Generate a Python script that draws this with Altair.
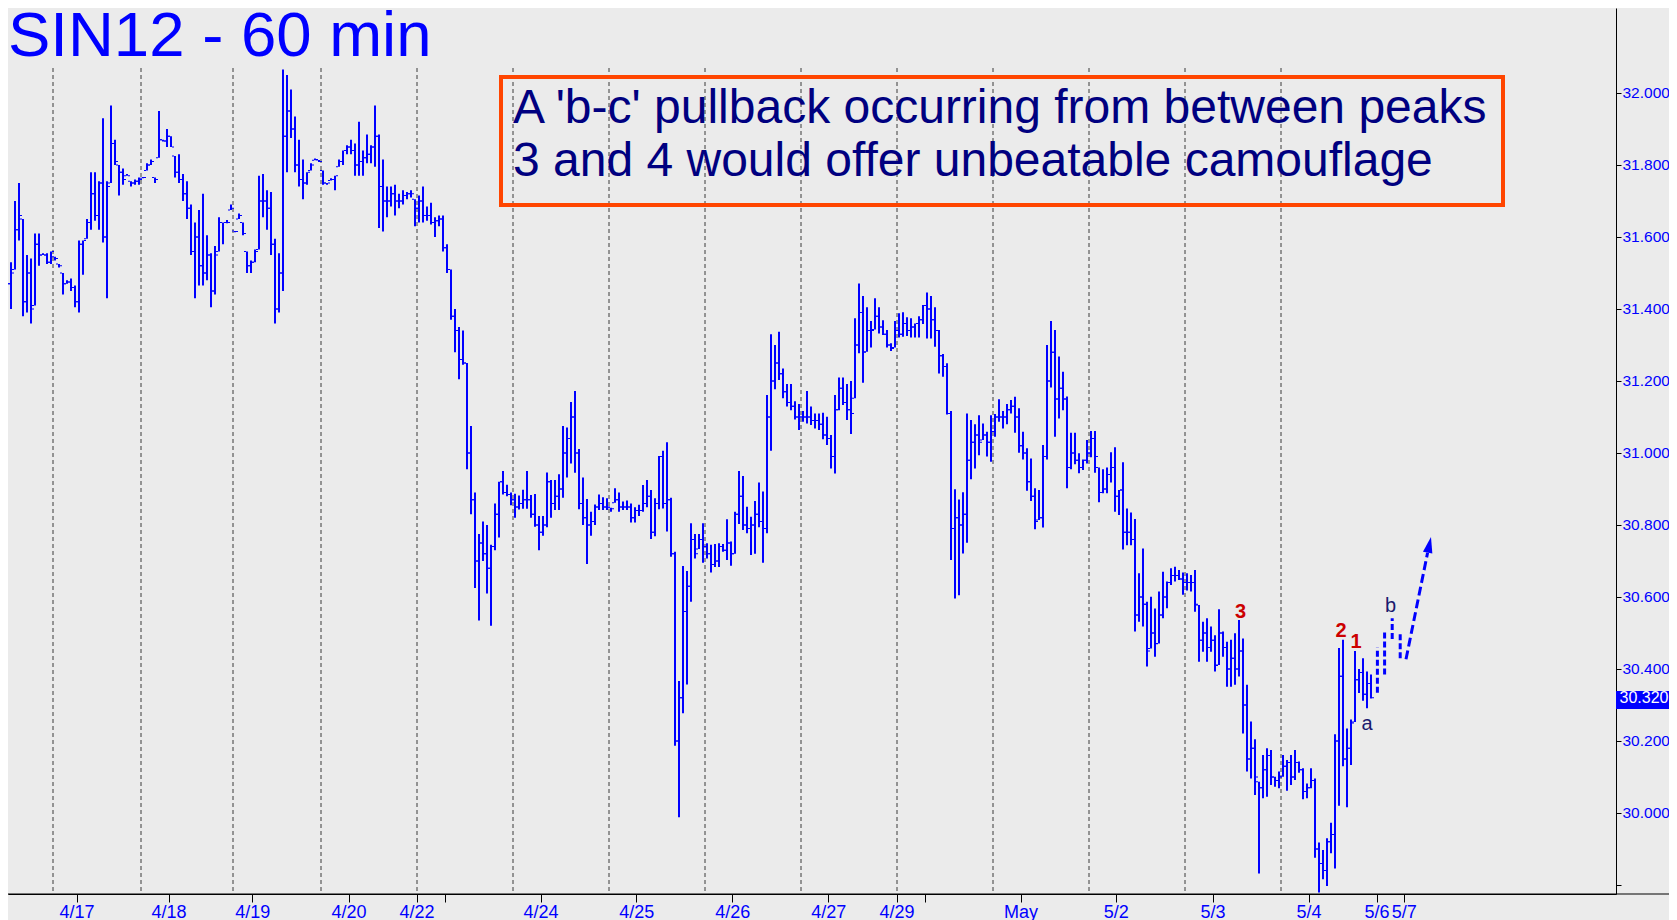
import altair as alt
import pandas as pd

# ---------------- data ----------------
# hourly bars, index i = bar number (first visible bar = 1)
highs = [
    31.57, 31.53, 31.70, 31.75, 31.65, 31.55, 31.54, 31.61, 31.61, 31.555,
    31.555, 31.56, 31.545, 31.525, 31.50, 31.48, 31.485, 31.465, 31.59, 31.59,
    31.65, 31.78, 31.78, 31.755, 31.93, 31.755, 31.965, 31.87, 31.80, 31.79,
    31.775, 31.755, 31.76, 31.765, 31.767, 31.805, 31.815, 31.765, 31.95, 31.87,
    31.90, 31.88, 31.825, 31.83, 31.775, 31.755, 31.69, 31.64, 31.675, 31.72,
    31.605, 31.555, 31.575, 31.655, 31.64, 31.647, 31.69, 31.617, 31.665, 31.64,
    31.56, 31.535, 31.565, 31.77, 31.775, 31.73, 31.725, 31.595, 31.555, 32.065,
    32.05, 32.01, 31.935, 31.87, 31.815, 31.78, 31.805, 31.818, 31.814, 31.785,
    31.75, 31.763, 31.77, 31.815, 31.84, 31.855, 31.87, 31.86, 31.92, 31.84,
    31.885, 31.855, 31.965, 31.885, 31.815, 31.74, 31.74, 31.745, 31.72, 31.73,
    31.725, 31.73, 31.705, 31.715, 31.74, 31.685, 31.695, 31.655, 31.66, 31.66,
    31.58, 31.51, 31.40, 31.35, 31.34, 31.25, 31.075, 30.89, 30.775, 30.81,
    30.80, 30.745, 30.86, 30.92, 30.95, 30.912, 30.89, 30.887, 30.882, 30.898,
    30.95, 30.883, 30.886, 30.825, 30.825, 30.946, 30.925, 30.925, 30.941, 31.075,
    31.071, 31.142, 31.172, 31.011, 30.932, 30.872, 30.837, 30.857, 30.885, 30.877,
    30.874, 30.848, 30.902, 30.89, 30.865, 30.868, 30.86, 30.849, 30.856, 30.911,
    30.925, 30.897, 30.874, 30.992, 31.006, 31.03, 30.876, 30.726, 30.367, 30.686,
    30.672, 30.805, 30.775, 30.775, 30.805, 30.749, 30.745, 30.747, 30.749, 30.747,
    30.816, 30.754, 30.837, 30.95, 30.936, 30.851, 30.823, 30.867, 30.918, 30.893,
    31.161, 31.33, 31.30, 31.337, 31.235, 31.192, 31.192, 31.144, 31.136, 31.117,
    31.172, 31.129, 31.11, 31.11, 31.112, 31.101, 31.05, 31.161, 31.21, 31.21,
    31.192, 31.20, 31.374, 31.471, 31.436, 31.405, 31.367, 31.43, 31.405, 31.369,
    31.342, 31.305, 31.367, 31.388, 31.391, 31.377, 31.374, 31.36, 31.38, 31.411,
    31.446, 31.436, 31.405, 31.342, 31.275, 31.249, 31.117, 30.899, 30.871, 30.891,
    31.11, 31.092, 31.08, 31.105, 31.082, 31.059, 31.105, 31.108, 31.149, 31.117,
    31.136, 31.147, 31.156, 31.124, 31.059, 31.013, 30.985, 30.902, 30.897, 31.022,
    31.30, 31.367, 31.342, 31.268, 31.226, 31.157, 31.056, 31.056, 30.999, 30.982,
    31.036, 31.061, 31.061, 30.96, 30.955, 30.96, 31.002, 31.016, 30.897, 30.974,
    30.846, 30.835, 30.817, 30.666, 30.735, 30.587, 30.601, 30.568, 30.615, 30.67,
    30.643, 30.68, 30.684, 30.675, 30.668, 30.666, 30.661, 30.675, 30.578, 30.531,
    30.541, 30.518, 30.494, 30.566, 30.504, 30.476, 30.481, 30.499, 30.536, 30.485,
    30.356, 30.254, 30.205, 30.087, 30.161, 30.18, 30.175, 30.101, 30.115, 30.161,
    30.147, 30.161, 30.175, 30.143, 30.124, 30.082, 30.124, 30.096, 29.918, 29.897,
    29.93, 29.973, 30.219, 30.458, 30.481, 30.235, 30.26, 30.45, 30.40, 30.43,
    30.393, 30.385,
]
lows = [
    31.45, 31.40, 31.51, 31.59, 31.38, 31.39, 31.36, 31.41, 31.52, 31.55,
    31.525, 31.525, 31.535, 31.515, 31.44, 31.47, 31.45, 31.405, 31.39, 31.495,
    31.595, 31.62, 31.645, 31.62, 31.585, 31.43, 31.75, 31.80, 31.715, 31.745,
    31.77, 31.74, 31.745, 31.745, 31.763, 31.785, 31.80, 31.75, 31.82, 31.865,
    31.85, 31.85, 31.765, 31.75, 31.70, 31.65, 31.55, 31.43, 31.465, 31.465,
    31.48, 31.405, 31.44, 31.56, 31.58, 31.638, 31.675, 31.613, 31.65, 31.605,
    31.50, 31.50, 31.53, 31.565, 31.655, 31.62, 31.55, 31.36, 31.39, 31.45,
    31.78, 31.875, 31.78, 31.74, 31.705, 31.745, 31.785, 31.813, 31.808, 31.745,
    31.745, 31.757, 31.73, 31.795, 31.80, 31.83, 31.83, 31.77, 31.77, 31.77,
    31.805, 31.805, 31.795, 31.625, 31.615, 31.655, 31.685, 31.66, 31.68, 31.69,
    31.705, 31.71, 31.63, 31.64, 31.64, 31.645, 31.635, 31.60, 31.63, 31.56,
    31.50, 31.37, 31.28, 31.205, 31.245, 30.955, 30.83, 30.625, 30.535, 30.70,
    30.61, 30.52, 30.73, 30.765, 30.885, 30.88, 30.855, 30.82, 30.843, 30.845,
    30.845, 30.82, 30.795, 30.73, 30.77, 30.794, 30.82, 30.842, 30.842, 30.876,
    30.932, 30.971, 30.945, 30.844, 30.80, 30.692, 30.77, 30.80, 30.842, 30.842,
    30.842, 30.837, 30.862, 30.837, 30.842, 30.842, 30.807, 30.807, 30.825, 30.837,
    30.849, 30.761, 30.769, 30.844, 30.846, 30.782, 30.712, 30.187, 29.988, 30.277,
    30.357, 30.587, 30.707, 30.733, 30.695, 30.707, 30.668, 30.683, 30.683, 30.726,
    30.703, 30.687, 30.72, 30.803, 30.786, 30.777, 30.717, 30.72, 30.794, 30.695,
    30.777, 31.006, 31.177, 31.203, 31.152, 31.129, 31.119, 31.093, 31.064, 31.087,
    31.082, 31.078, 31.068, 31.064, 31.038, 31.022, 30.957, 30.943, 31.119, 31.133,
    31.092, 31.053, 31.152, 31.277, 31.195, 31.281, 31.293, 31.343, 31.332, 31.328,
    31.293, 31.283, 31.293, 31.321, 31.323, 31.325, 31.321, 31.321, 31.321, 31.358,
    31.318, 31.318, 31.295, 31.221, 31.212, 31.107, 30.703, 30.596, 30.605, 30.721,
    30.751, 30.927, 30.957, 30.994, 31.036, 30.99, 30.976, 31.045, 31.087, 31.068,
    31.08, 31.11, 31.056, 31.001, 30.982, 30.895, 30.867, 30.788, 30.814, 30.793,
    30.982, 31.182, 31.045, 31.096, 31.119, 30.902, 30.955, 30.969, 30.944, 30.953,
    30.971, 30.988, 30.945, 30.863, 30.888, 30.888, 30.918, 30.837, 30.828, 30.732,
    30.744, 30.744, 30.504, 30.531, 30.518, 30.407, 30.457, 30.434, 30.471, 30.541,
    30.569, 30.633, 30.643, 30.647, 30.606, 30.618, 30.615, 30.559, 30.42, 30.448,
    30.42, 30.448, 30.393, 30.411, 30.434, 30.351, 30.351, 30.356, 30.379, 30.221,
    30.115, 30.096, 30.05, 29.832, 30.041, 30.045, 30.078, 30.073, 30.069, 30.101,
    30.062, 30.078, 30.092, 30.112, 30.038, 30.041, 30.069, 29.876, 29.779, 29.816,
    29.797, 29.888, 29.846, 30.02, 30.13, 30.016, 30.133, 30.253, 30.333, 30.312,
    30.291, 30.318,
]
closes = [
    31.47, 31.50, 31.62, 31.66, 31.42, 31.50, 31.40, 31.58, 31.55, 31.55,
    31.53, 31.56, 31.54, 31.52, 31.47, 31.475, 31.46, 31.42, 31.58, 31.59,
    31.64, 31.72, 31.66, 31.75, 31.60, 31.74, 31.86, 31.81, 31.78, 31.76,
    31.77, 31.75, 31.755, 31.76, 31.765, 31.80, 31.81, 31.76, 31.87, 31.867,
    31.88, 31.85, 31.78, 31.76, 31.72, 31.68, 31.56, 31.60, 31.52, 31.50,
    31.55, 31.45, 31.55, 31.64, 31.64, 31.64, 31.68, 31.615, 31.66, 31.61,
    31.52, 31.53, 31.56, 31.70, 31.70, 31.68, 31.58, 31.40, 31.50, 31.88,
    31.95, 31.90, 31.80, 31.76, 31.75, 31.78, 31.80, 31.815, 31.81, 31.75,
    31.75, 31.76, 31.80, 31.81, 31.84, 31.85, 31.84, 31.80, 31.81, 31.82,
    31.83, 31.85, 31.88, 31.74, 31.70, 31.70, 31.72, 31.70, 31.70, 31.715,
    31.72, 31.72, 31.68, 31.70, 31.66, 31.66, 31.64, 31.645, 31.65, 31.57,
    31.51, 31.38, 31.34, 31.26, 31.25, 31.00, 30.87, 30.70, 30.75, 30.72,
    30.68, 30.74, 30.83, 30.92, 30.89, 30.885, 30.87, 30.85, 30.86, 30.87,
    30.87, 30.83, 30.80, 30.78, 30.80, 30.92, 30.86, 30.88, 30.90, 31.00,
    31.04, 31.10, 31.00, 30.86, 30.82, 30.80, 30.81, 30.85, 30.86, 30.85,
    30.85, 30.845, 30.87, 30.85, 30.85, 30.85, 30.82, 30.84, 30.84, 30.86,
    30.88, 30.78, 30.86, 30.99, 30.86, 30.87, 30.72, 30.20, 30.32, 30.56,
    30.63, 30.76, 30.72, 30.76, 30.74, 30.72, 30.69, 30.70, 30.74, 30.73,
    30.75, 30.72, 30.83, 30.88, 30.80, 30.79, 30.80, 30.83, 30.81, 30.79,
    31.10, 31.20, 31.25, 31.22, 31.17, 31.14, 31.13, 31.10, 31.10, 31.10,
    31.10, 31.09, 31.09, 31.08, 31.05, 31.04, 30.99, 31.12, 31.18, 31.14,
    31.12, 31.11, 31.30, 31.39, 31.28, 31.34, 31.34, 31.38, 31.35, 31.33,
    31.30, 31.29, 31.34, 31.33, 31.36, 31.34, 31.35, 31.36, 31.37, 31.41,
    31.40, 31.37, 31.34, 31.27, 31.24, 31.11, 30.79, 30.82, 30.80, 30.83,
    30.98, 31.03, 31.05, 31.03, 31.05, 31.03, 31.06, 31.10, 31.10, 31.10,
    31.12, 31.13, 31.10, 31.02, 31.00, 30.92, 30.88, 30.81, 30.82, 30.99,
    31.20, 31.28, 31.15, 31.18, 31.15, 30.96, 31.00, 30.98, 30.96, 30.98,
    31.00, 31.04, 30.99, 30.89, 30.90, 30.94, 30.96, 30.88, 30.91, 30.78,
    30.78, 30.76, 30.55, 30.60, 30.58, 30.45, 30.50, 30.47, 30.55, 30.60,
    30.64, 30.66, 30.66, 30.65, 30.64, 30.64, 30.64, 30.58, 30.48, 30.50,
    30.46, 30.48, 30.41, 30.50, 30.46, 30.40, 30.43, 30.40, 30.45, 30.30,
    30.15, 30.18, 30.10, 30.07, 30.12, 30.16, 30.10, 30.09, 30.10, 30.13,
    30.14, 30.10, 30.14, 30.12, 30.06, 30.07, 30.09, 29.90, 29.86, 29.84,
    29.92, 29.94, 30.20, 30.38, 30.15, 30.18, 30.25, 30.37, 30.39, 30.33,
    30.36, 30.32,
]
FIRST_BAR = 1

# projected (dashed) bars
proj_i = [343.6, 345.4, 347.3, 349.3]
proj_low = [30.334, 30.385, 30.483, 30.43]
proj_high = [30.46, 30.51, 30.541, 30.505]

# projected arrow (start -> end of shaft, head position)
arrow_i = [350.75, 356.15]
arrow_p = [30.427, 30.723]
head_i = [356.58]
head_p = [30.745]

# day separators (bar-index units)
day_sep = [12.5, 34.5, 57.5, 79.5, 103.5, 127.5, 151.5, 175.5, 199.5,
           223.5, 247.5, 271.5, 295.5, 319.5]

# date axis ticks and labels
date_pos = [18.4, 41.4, 62.3, 86.4, 103.4, 110.4, 134.4, 158.3, 182.3,
            206.3, 223.4, 230.5, 254.4, 278.2, 302.4, 326.4, 343.4, 350.2]
date_lab = ["4/17", "4/18", "4/19", "4/20", "4/22", "", "4/24", "4/25", "4/26",
            "4/27", "4/29", "", "May", "5/2", "5/3", "5/4", "5/6", "5/7"]

price_ticks = [29.8, 30.0, 30.2, 30.4, 30.6, 30.8, 31.0, 31.2, 31.4, 31.6, 31.8, 32.0]

# wave labels
red_text = ["3", "2", "1"]
red_i = [309.4, 334.5, 338.25]
red_p = [30.559, 30.505, 30.474]
navy_text = ["a", "b"]
navy_i = [341.0, 346.9]
navy_p = [30.247, 30.576]

last_price = 30.320
tag_low, tag_high = 30.289, 30.339

title_text = "SIN12 - 60 min"
note_lines = ["A 'b-c' pullback occurring from between peaks",
              "3 and 4 would offer unbeatable camouflage"]

# ---------------- tables ----------------
n = len(highs)
assert len(lows) == n and len(closes) == n
bars = pd.DataFrame({"i": list(range(FIRST_BAR, FIRST_BAR + n)),
                     "p": lows, "p2": highs, "c": closes})
bars["c"] = bars["c"].clip(lower=bars["p"], upper=bars["p2"])
bars["o"] = bars["c"].shift(1).fillna(bars["c"]).clip(lower=bars["p"], upper=bars["p2"])

proj = pd.DataFrame({"i": proj_i, "p": proj_low, "p2": proj_high})
arrow = pd.DataFrame({"i": [arrow_i[0]], "i2": [arrow_i[1]],
                      "p": [arrow_p[0]], "p2": [arrow_p[1]]})
head = pd.DataFrame({"i": head_i, "p": head_p})
seps = pd.DataFrame({"i": day_sep})
reds = pd.DataFrame({"i": red_i, "p": red_p, "t": red_text})
navys = pd.DataFrame({"i": navy_i, "p": navy_p, "t": navy_text})
tag = pd.DataFrame({"p": [tag_low], "p2": [tag_high], "v": [last_price],
                    "t": [f"{last_price:.3f}"]})
title_df = pd.DataFrame({"t": [title_text]})
note1 = pd.DataFrame({"t": [note_lines[0]]})
note2 = pd.DataFrame({"t": [note_lines[1]]})
one = pd.DataFrame({"k": [0]})

# ---------------- scales / axes ----------------
BLUE = "#0000ff"
FONT = "Liberation Sans"
NARROW = "Liberation Sans Narrow, Arial Narrow, Liberation Sans"
W, H = 1608, 886
RIGHT_PAD = 53          # total width 1661 = page width minus body margins

xs = alt.Scale(domain=[1.25, 403.25], nice=False, zero=False)
ys = alt.Scale(domain=[29.775, 32.2361], nice=False, zero=False)

date_expr = ""
for pos, lab in zip(date_pos, date_lab):
    date_expr += f"abs(datum.value - {pos}) < 0.01 ? '{lab}' : "
date_expr += "''"

x_axis = alt.Axis(values=date_pos, labelExpr=date_expr, title=None, grid=False,
                  tickSize=8, tickColor="black", tickWidth=1,
                  domainColor="black", labelColor=BLUE, labelFont=NARROW,
                  labelFontSize=18, labelPadding=1, labelOverlap=False,
                  labelFlush=False, labelBound=False)
y_axis = alt.Axis(orient="right", values=price_ticks, title=None, grid=False,
                  labelExpr="datum.value < 29.9 ? '' : format(datum.value, '.3f')",
                  tickSize=5, tickColor="black", domainColor="black",
                  labelColor=BLUE, labelFont=FONT, labelFontSize=15.5, labelPadding=1,
                  labelOverlap=False, labelFlush=False, labelBound=False)

# ---------------- layers ----------------
sep_l = alt.Chart(seps).mark_rule(color="#3a3a3a", strokeWidth=1, strokeDash=[4, 3]).encode(
    x=alt.X("i:Q", scale=xs, axis=x_axis), y=alt.value(60), y2=alt.value(H))

bar_l = alt.Chart(bars).mark_rule(color=BLUE, strokeWidth=2).encode(
    x=alt.X("i:Q", scale=xs, title=None),
    y=alt.Y("p:Q", scale=ys, axis=y_axis), y2="p2:Q")

open_l = alt.Chart(bars).mark_tick(orient="horizontal", size=2, thickness=1,
                                   xOffset=-2, color=BLUE, opacity=1).encode(
    x=alt.X("i:Q", scale=xs, title=None), y=alt.Y("o:Q", scale=ys, title=None))
close_l = alt.Chart(bars).mark_tick(orient="horizontal", size=2, thickness=1,
                                    xOffset=2, color=BLUE, opacity=1).encode(
    x=alt.X("i:Q", scale=xs, title=None), y=alt.Y("c:Q", scale=ys, title=None))

proj_l = alt.Chart(proj).mark_rule(color=BLUE, strokeWidth=3, strokeDash=[6, 3]).encode(
    x=alt.X("i:Q", scale=xs, title=None), y=alt.Y("p:Q", scale=ys, title=None), y2="p2:Q")

arrow_l = alt.Chart(arrow).mark_rule(color=BLUE, strokeWidth=3, strokeDash=[9, 4]).encode(
    x=alt.X("i:Q", scale=xs, title=None), x2="i2:Q",
    y=alt.Y("p:Q", scale=ys, title=None), y2="p2:Q")

head_l = alt.Chart(head).mark_point(shape="M0,-1L0.6,1L-0.6,1Z", filled=True, size=256,
                                    angle=12, color=BLUE, opacity=1, strokeWidth=0).encode(
    x=alt.X("i:Q", scale=xs, title=None), y=alt.Y("p:Q", scale=ys, title=None))

red_l = alt.Chart(reds).mark_text(font=FONT, fontSize=20, fontWeight="bold", color="#cc0000",
                                  align="center", baseline="middle").encode(
    x=alt.X("i:Q", scale=xs, title=None), y=alt.Y("p:Q", scale=ys, title=None), text="t:N")
navy_l = alt.Chart(navys).mark_text(font=FONT, fontSize=20, color="#1a1a6e",
                                    align="center", baseline="middle").encode(
    x=alt.X("i:Q", scale=xs, title=None), y=alt.Y("p:Q", scale=ys, title=None), text="t:N")

box_l = alt.Chart(one).mark_rect(fillOpacity=0, stroke="#ff4500", strokeWidth=4).encode(
    x=alt.value(493), x2=alt.value(1495), y=alt.value(69), y2=alt.value(197))
note1_l = alt.Chart(note1).mark_text(font=FONT, fontSize=48, color="#000080",
                                     align="left", baseline="alphabetic").encode(
    x=alt.value(505), y=alt.value(115), text="t:N")
note2_l = alt.Chart(note2).mark_text(font=FONT, fontSize=48, color="#000080",
                                     align="left", baseline="alphabetic").encode(
    x=alt.value(505), y=alt.value(168), text="t:N")

title_l = alt.Chart(title_df).mark_text(font=FONT, fontSize=63.5, color=BLUE,
                                        align="left", baseline="alphabetic").encode(
    x=alt.value(0), y=alt.value(48), text="t:N")

tag_rect = alt.Chart(tag).mark_rect(color=BLUE).encode(
    x=alt.value(W), x2=alt.value(W + RIGHT_PAD),
    y=alt.Y("p:Q", scale=ys, title=None), y2="p2:Q")
tag_text = alt.Chart(tag).mark_text(font=FONT, fontSize=16, color="white",
                                    align="center", baseline="middle").encode(
    x=alt.value(W + 28), y=alt.Y("v:Q", scale=ys, title=None), text="t:N")

bottom_l = alt.Chart(one).mark_rule(color="black", strokeWidth=1).encode(
    x=alt.value(0), x2=alt.value(W + RIGHT_PAD), y=alt.value(H), y2=alt.value(H))

chart = alt.layer(
    sep_l, bar_l, open_l, close_l, proj_l, arrow_l, head_l, red_l, navy_l,
    box_l, note1_l, note2_l, title_l, tag_rect, tag_text, bottom_l
).properties(
    width=W, height=H,
    autosize=alt.AutoSizeParams(type="none"),
    padding={"left": 0, "top": 0, "right": RIGHT_PAD, "bottom": 26},
).configure(background="#ebebeb").configure_view(stroke=None)

chart.save("out.html", embed_options={"renderer": "svg", "actions": False})
